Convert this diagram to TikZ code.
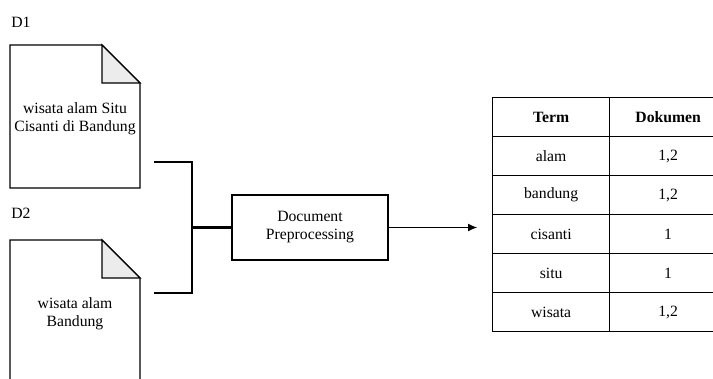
\documentclass[tikz,border=0pt]{standalone}
\usepackage{fontspec}
\setmainfont{Liberation Serif}
\usetikzlibrary{positioning, arrows.meta}
\tikzset{
    docpage/.style={draw=black, line width=1.3pt, fill=white},
    docfold/.style={draw=black, line width=1.3pt, fill=gray!15},
    doctext/.style={align=center, inner sep=0pt},
    process/.style={rectangle, minimum width=156pt, minimum height=65pt, text centered, align=center, draw=black, line width=1.3pt},
    cell/.style={rectangle, minimum width=117pt, minimum height=39pt, inner sep=0pt, anchor=north west, text centered, draw=black, line width=1.3pt},
    bracket/.style={line width=2.5pt},
    arrow/.style={line width=1pt, -{Latex[length=9pt, width=8pt]}}
}

\begin{document}
\begin{tikzpicture}[x=1pt, y=-1pt, font=\fontsize{15.7}{18}\selectfont]
    \useasboundingbox (0,0) rectangle (713,378);
    \clip (0,0) rectangle (713,378);

    % documents
    \draw [docpage] (10,45) -- (102,45) -- (140,83) -- (140,188) -- (10,188) -- cycle;
    \draw [docfold] (102,45) -- (140,83) -- (102,83) -- cycle;
    \draw [docpage] (10,240) -- (102,240) -- (140,278) -- (140,392) -- (10,392) -- cycle;
    \draw [docfold] (102,240) -- (140,278) -- (102,278) -- cycle;

    \node (d1) at (21,22) {D1};
    \node (d2) at (21,213) {D2};
    \node (d1text) [doctext] at (75,119) {wisata alam Situ\\Cisanti di Bandung};
    \node (d2text) [doctext] at (75,314) {wisata alam\\Bandung};

    % preprocessing
    \node (prep) [process] at (310,227.5) {Document\\Preprocessing};

    \coordinate (b1) at (154,162);
    \coordinate (b2) at (154,293);
    \coordinate (join) at (192,227.5);
    \draw [bracket] (b1) -| (join) |- (b2);
    \draw [bracket] (join) -- (prep.west);

    \coordinate (tableend) at (477,227.5);
    \draw [arrow] (prep.east) -- (tableend);

    % inverted index
    \node (termhead) [cell] at (492,97) {\textbf{Term}};
    \node (dochead) [cell] at (609,97) {\textbf{Dokumen}};
    \foreach \term/\docs [count=\i] in {alam/{1,2}, bandung/{1,2}, cisanti/1, situ/1, wisata/{1,2}} {
        \node (term\i) [cell] at (492,97+39*\i) {\term};
        \node (docs\i) [cell] at (609,97+39*\i) {\docs};
    }
\end{tikzpicture}
\end{document}
